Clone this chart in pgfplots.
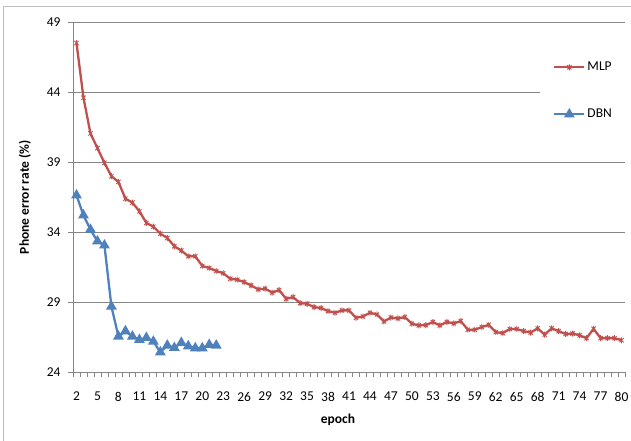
\documentclass[border=0pt]{standalone}
\usepackage{fontspec}
\setmainfont{Carlito}
\usepackage{pgfplots}
\pgfplotsset{compat=1.18}
\definecolor{mlp}{RGB}{192,80,77}
\definecolor{dbn}{RGB}{79,129,189}
\definecolor{gridc}{RGB}{134,134,134}
\pgfdeclareplotmark{xstar}{%
 \pgfpathmoveto{\pgfqpoint{-.707\pgfplotmarksize}{-.707\pgfplotmarksize}}%
 \pgfpathlineto{\pgfqpoint{.707\pgfplotmarksize}{.707\pgfplotmarksize}}%
 \pgfpathmoveto{\pgfqpoint{-.707\pgfplotmarksize}{.707\pgfplotmarksize}}%
 \pgfpathlineto{\pgfqpoint{.707\pgfplotmarksize}{-.707\pgfplotmarksize}}%
 \pgfpathmoveto{\pgfqpoint{0pt}{-\pgfplotmarksize}}%
 \pgfpathlineto{\pgfqpoint{0pt}{\pgfplotmarksize}}%
 \pgfusepathqstroke}
\begin{document}
\begin{tikzpicture}[x=1pt,y=1pt]
\useasboundingbox (0,0) rectangle (631,441);
\draw[gray!50, line width=1pt] (3.5,0) -- (3.5,434) -- (631,434);
\begin{axis}[
  at={(73pt,68.5pt)}, anchor=south west,
  scale only axis, width=552pt, height=350.5pt,
  xmin=1.5, xmax=80.5, ymin=24, ymax=49,
  xtick={2,5,...,80}, ytick={24,29,...,49},
  minor xtick={1.5,2.5,...,80.5}, minor ytick={24,29,...,49},
  major tick length=0pt, minor tick length=5pt, tick align=outside,
  axis x line*=bottom, axis y line*=left,
  axis line style={gridc, line width=1pt, -},
  tick style={gridc, line width=0.8pt},
  ymajorgrids, grid style={gridc, line width=0.9pt},
  /pgf/number format/assume math mode=true,
  ticklabel style={font=\fontsize{13.5}{15}\selectfont},
  yticklabel style={xshift=-9pt},
  xticklabel style={yshift=-16pt},
  xlabel={epoch}, ylabel={Phone error rate (\%)},
  every axis x label/.style={at={(axis description cs:0.48,-0.1355)}, anchor=center, font=\bfseries\fontsize{13.5}{15}\selectfont},
  every axis y label/.style={at={(axis description cs:-0.087,0.5)}, rotate=90, anchor=center, font=\bfseries\fontsize{13.5}{15}\selectfont},
  legend style={at={(0.846,0.934)}, anchor=north west, draw=none, fill=white,
    inner xsep=13pt, inner ysep=14pt, row sep=31pt,
    font=\fontsize{13.5}{15}\selectfont,
    nodes={inner sep=2pt, text height=9pt, text depth=3pt}},
  legend cell align=left,
  legend image code/.code={\draw[mark repeat=2,mark phase=2,#1] plot coordinates {(0pt,0pt)(15pt,0pt)(30pt,0pt)};},
  clip=false,
]
\addplot[mlp, line width=2.3pt, mark=xstar, mark size=3pt, mark options={line width=0.9pt}] coordinates {
(2,47.5)(3,43.6)(4,41.05)(5,40.0)(6,38.95)(7,38.0)(8,37.6)(9,36.4)(10,36.12)(11,35.5)
(12,34.67)(13,34.4)(14,33.9)(15,33.6)(16,33.0)(17,32.7)(18,32.29)(19,32.29)(20,31.6)(21,31.45)
(22,31.24)(23,31.08)(24,30.69)(25,30.62)(26,30.45)(27,30.21)(28,29.93)(29,29.98)(30,29.7)(31,29.88)
(32,29.26)(33,29.38)(34,28.95)(35,28.9)(36,28.66)(37,28.6)(38,28.38)(39,28.26)(40,28.43)(41,28.43)
(42,27.9)(43,28.0)(44,28.26)(45,28.14)(46,27.64)(47,27.92)(48,27.86)(49,27.95)(50,27.48)(51,27.36)
(52,27.38)(53,27.6)(54,27.36)(55,27.6)(56,27.5)(57,27.67)(58,27.05)(59,27.05)(60,27.24)(61,27.4)
(62,26.88)(63,26.81)(64,27.1)(65,27.1)(66,26.95)(67,26.85)(68,27.15)(69,26.7)(70,27.15)(71,26.95)
(72,26.75)(73,26.78)(74,26.65)(75,26.45)(76,27.12)(77,26.45)(78,26.45)(79,26.45)(80,26.3)
};
\addlegendentry{MLP}
\addplot[dbn, line width=2.3pt, mark=triangle*, mark size=4pt] coordinates {
(2,36.64)(3,35.21)(4,34.19)(5,33.36)(6,33.07)(7,28.71)(8,26.57)(9,26.95)(10,26.57)(11,26.33)
(12,26.48)(13,26.21)(14,25.45)(15,25.93)(16,25.76)(17,26.12)(18,25.88)(19,25.74)(20,25.74)(21,25.98)(22,25.93)
};
\addlegendentry{DBN}
\end{axis}
\end{tikzpicture}
\end{document}
